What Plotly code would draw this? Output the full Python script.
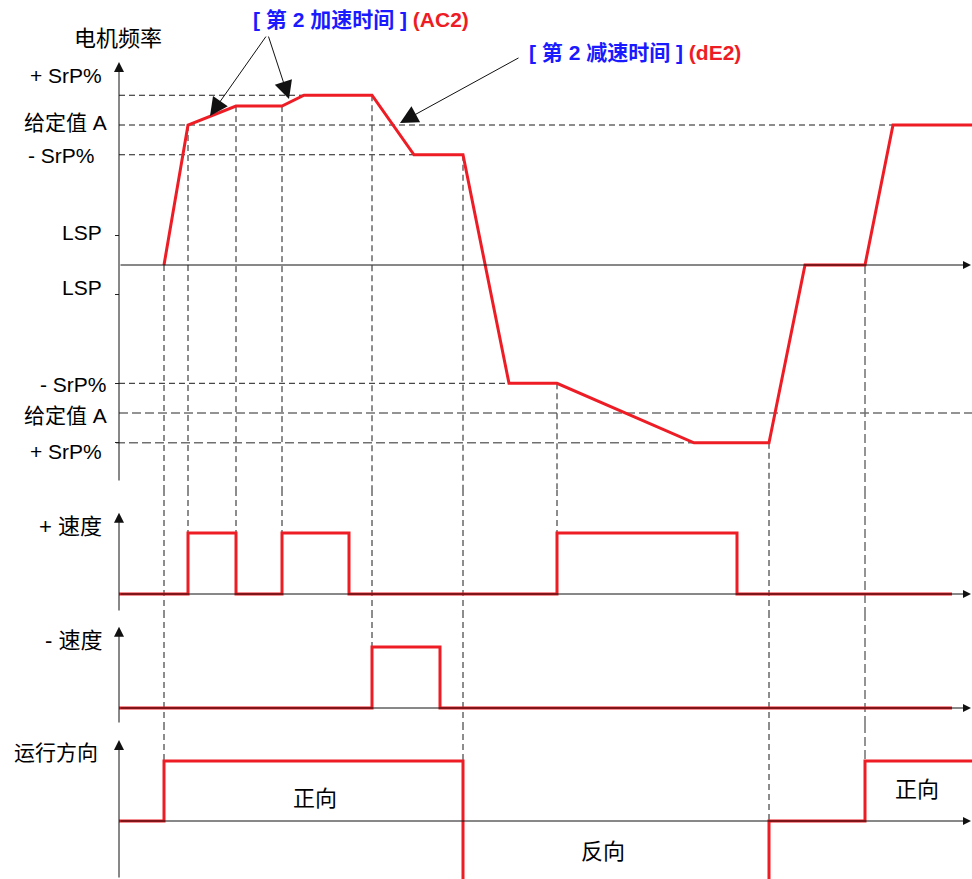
import plotly.graph_objects as go

# time base (s); the figure is a timing diagram, 1 s = 10 px
t_freq = [4.5, 6.9, 11.7, 16.3, 18.5, 25.3, 29.5, 34.4, 39.0, 43.8, 57.5, 65.0, 68.6, 74.6, 77.4, 85.3]
f_freq = [0, 40, 45.4, 45.4, 48.5, 48.5, 31.5, 31.5, -33.8, -33.8, -50.8, -50.8, 0, 0, 40, 40]

# reference levels (Hz)
SRP_HI, REF_A, SRP_LO, LSP = 48.5, 40, 31.5, 8.5
R_SRP_LO, R_REF_A, R_SRP_HI = -33.8, -42.3, -50.8

# logic inputs (step signals)
t_plus = [0, 6.9, 11.7, 16.3, 23.0, 43.8, 61.8, 83.3]
v_plus = [0, 1, 0, 1, 0, 1, 0, 0]
t_minus = [0, 25.3, 32.1, 83.3]
v_minus = [0, 1, 0, 0]
t_dir = [0, 4.5, 34.4, 65.0, 74.6, 85.3]
v_dir = [0, 1, -1.2, 0, 1, 1]

# event markers: time, start level (freq panel), end panel, end level
ev_t = [4.5, 6.9, 11.7, 16.3, 25.3, 34.4, 43.8, 65.0, 74.6]
ev_f = [0, 40, 45.4, 45.4, 48.5, 31.5, -33.8, -50.8, 0]
ev_panel = [4, 2, 2, 2, 3, 4, 2, 4, 4]
ev_end = [1, 1, 1, 1, 1, 1, 1, -1.2, 1]

W, H = 972, 879
X0 = 119  # px of t = 0
PPX = 10
RED = "#ee1c25"
FONT = "Liberation Sans, Arial, Noto Sans CJK SC"

# panel placement in px: top, bottom, zero line, px per unit
panels = {
    1: (0, 490, 265, 3.5),
    2: (490, 612, 594, 61),
    3: (612, 724, 708, 61),
    4: (724, 879, 821, 60),
}


def yname(k):
    return "y" if k == 1 else f"y{k}"


def yrange(k):
    top, bot, zero, ppu = panels[k]
    return [-(bot - zero) / ppu, (zero - top) / ppu]


fig = go.Figure()

fig.add_trace(go.Scatter(x=t_freq, y=f_freq, mode="lines", yaxis="y",
                         line=dict(color=RED, width=3)))
fig.add_trace(go.Scatter(x=t_plus, y=v_plus, mode="lines", yaxis="y2",
                         line=dict(color=RED, width=3, shape="hv")))
fig.add_trace(go.Scatter(x=t_minus, y=v_minus, mode="lines", yaxis="y3",
                         line=dict(color=RED, width=3, shape="hv")))
fig.add_trace(go.Scatter(x=t_dir, y=v_dir, mode="lines", yaxis="y4",
                         line=dict(color=RED, width=3, shape="hv")))

dark = dict(color="#1a1a1a", width=1, dash="6px,4px")
gray = dict(color="#707070", width=1.5, dash="9px,4px")

# horizontal dashed reference lines in the frequency panel
hlines = [(SRP_HI, 0, t_freq[4], dark), (REF_A, 0, t_freq[-1], dark),
          (SRP_LO, 0, t_freq[6], dark), (R_SRP_LO, 0, t_freq[8], dark),
          (R_REF_A, 0, t_freq[-1], gray), (R_SRP_HI, -0.3, t_freq[10], gray)]
for lv, xa, xb, st in hlines:
    fig.add_shape(type="line", xref="x", yref="y", x0=xa, x1=xb, y0=lv, y1=lv,
                  line=st, layer="below")

# vertical dashed event lines running through the panels
for t, f0, pk, f1 in zip(ev_t, ev_f, ev_panel, ev_end):
    st = gray if t == 74.6 else dark
    for k in range(1, pk + 1):
        lo, hi = yrange(k)
        y0 = f0 if k == 1 else hi
        y1 = f1 if k == pk else lo
        fig.add_shape(type="line", xref="x", yref=yname(k), x0=t, x1=t,
                      y0=y0, y1=y1, line=st, layer="below")


def arrow(x, y, ax, ay, yref, size=2.0, width=1):
    fig.add_annotation(x=x, y=y, ax=ax, ay=ay, xref="x", yref=yref,
                       axref="x", ayref=yref, text="", showarrow=True,
                       arrowhead=2, arrowsize=size, arrowwidth=width,
                       arrowcolor="#111111", standoff=0, startstandoff=0)


# axes with arrow heads
arrow(0, 58, 0, -62, "y")
arrow(85.2, 0, 0, 0, "y", size=1.6)
for k, top in [(2, 1.33), (3, 1.33), (4, 1.35)]:
    arrow(0, top, 0, yrange(k)[0], yname(k))
    arrow(85.2, 0, 0, 0, yname(k), size=1.6)

# pointers to the 2nd ramp segments
arrow(9.1, 42.6, 14.8, 65.7, "y", size=3.6)
arrow(17.0, 47.4, 14.9, 65.7, "y", size=3.6)
arrow(28.1, 40.6, 40.1, 59.4, "y", size=3.6)


def label(text, xr, ypx, anchor="right", size=21):
    fig.add_annotation(x=xr / W, y=1 - ypx / H, xref="paper", yref="paper",
                       text=text, showarrow=False, xanchor=anchor,
                       yanchor="middle", font=dict(size=size, color="black"))


label("电机频率", 118, 38, "center", 22)
label("+ SrP%", 104, 75)
label("给定值 A", 109, 122)
label("- SrP%", 97, 155)
label("LSP", 104, 232)
label("LSP", 104, 287)
label("- SrP%", 109, 384)
label("给定值 A", 109, 415)
label("+ SrP%", 104, 451)
label("+ 速度", 104, 526, size=22)
label("- 速度", 104, 640, size=22)
label("运行方向", 100, 752, size=21)
label("正向", 315, 798, "center", 22)
label("反向", 603, 851, "center", 22)
label("正向", 917, 789, "center", 22)

label('<b><span style="color:#1a1aff">[ 第 2 加速时间 ]</span> '
      '<span style="color:#ee1c25">(AC2)</span></b>', 361, 20, "center", 21)
label('<b><span style="color:#1a1aff">[ 第 2 减速时间 ]</span> '
      '<span style="color:#ee1c25">(dE2)</span></b>', 635, 53, "center", 21)

layout_axes = {}
for k in panels:
    top, bot, zero, ppu = panels[k]
    ax = dict(domain=[1 - bot / H, 1 - top / H], range=yrange(k),
              showgrid=False, zeroline=False, fixedrange=True)
    if k == 1:
        ax.update(anchor="free", position=X0 / W, showline=False,
                  showticklabels=False, ticks="outside", ticklen=4,
                  tickcolor="#222222", tickwidth=1,
                  tickvals=[LSP, -LSP, R_SRP_LO, R_SRP_HI])
    else:
        ax.update(visible=False, anchor="x")
    layout_axes["yaxis" if k == 1 else f"yaxis{k}"] = ax

fig.update_layout(
    width=W, height=H,
    margin=dict(l=0, r=0, t=0, b=0),
    paper_bgcolor="white", plot_bgcolor="white",
    showlegend=False,
    font=dict(family=FONT, size=21, color="black"),
    xaxis=dict(range=[-X0 / PPX, (W - X0) / PPX], domain=[0, 1], visible=False,
               fixedrange=True),
    **layout_axes,
)

fig.write_html("out.html", config={"displayModeBar": False},
               post_script="document.body.style.margin = '0';")
